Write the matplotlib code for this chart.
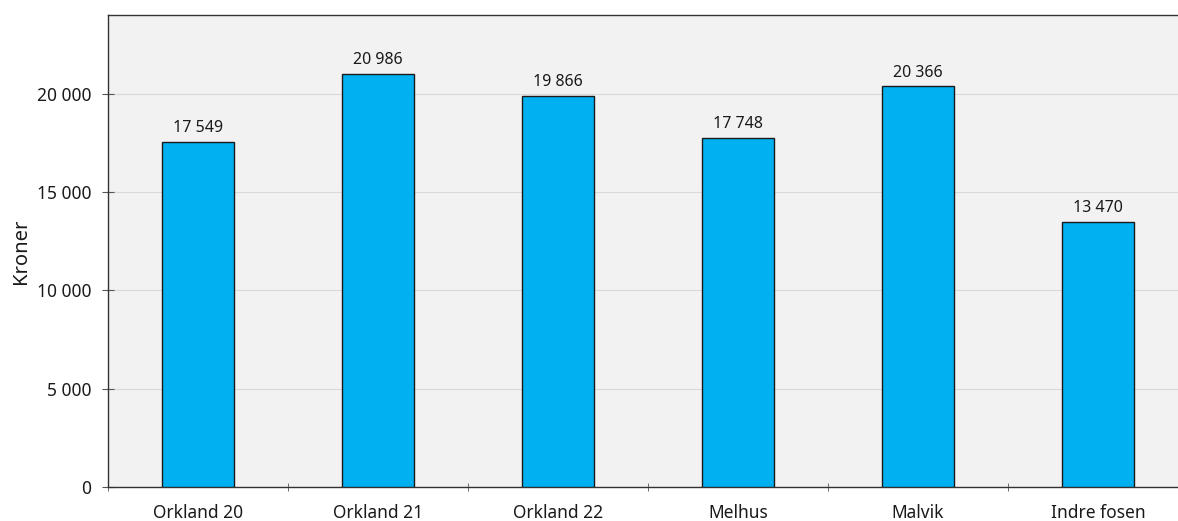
import matplotlib
matplotlib.use("Agg")
import matplotlib.pyplot as plt
from matplotlib.ticker import FuncFormatter, FixedLocator

categories = ["Orkland 20", "Orkland 21", "Orkland 22", "Melhus", "Malvik", "Indre fosen"]
values = [17549, 20986, 19866, 17748, 20366, 13470]
yticks = [0, 5000, 10000, 15000, 20000]

plt.rcParams['font.family'] = ['Noto Sans', 'DejaVu Sans']

def fmt(v):
    return f"{int(v):,}".replace(",", " ")

fig = plt.figure(figsize=(11.78, 5.21), dpi=100)
ax = fig.add_axes([108/1178, 34/521, 1080/1178, 472/521])
ax.set_facecolor("#f2f2f2")

x = list(range(len(categories)))
ax.bar(x, values, width=0.4, color="#00b0f0", edgecolor="#1a1a1a", linewidth=1.0, zorder=3)
for xi, v in zip(x, values):
    ax.text(xi, v + 300, fmt(v), ha="center", va="bottom", fontsize=11.5, color="#1a1a1a", zorder=4)

ax.set_xlim(-0.5, len(categories) - 0.5)
ax.set_ylim(0, 24000)
ax.set_yticks(yticks)
ax.yaxis.set_major_formatter(FuncFormatter(lambda v, p: fmt(v)))
ax.grid(axis="y", color="#d9d9d9", linewidth=0.8, zorder=0)

ax.set_xticks(x)
ax.set_xticklabels(categories, fontsize=12.5, color="#1a1a1a")
ax.tick_params(axis="x", which="major", length=0, pad=12.5)
ax.xaxis.set_minor_locator(FixedLocator([i - 0.5 for i in range(len(categories) + 1)]))
ax.tick_params(axis="x", which="minor", length=6, direction="inout", color="#555555")
ax.tick_params(axis="y", length=8, direction="inout", color="#555555", labelsize=12.5, labelcolor="#1a1a1a", pad=8)

ax.set_ylabel("Kroner", fontsize=14.5, color="#1a1a1a", labelpad=4)

for s in ["left", "bottom", "top"]:
    ax.spines[s].set_color("#333333")
    ax.spines[s].set_linewidth(1.0)
ax.spines["right"].set_visible(False)

fig.savefig("out.png", dpi=100)
